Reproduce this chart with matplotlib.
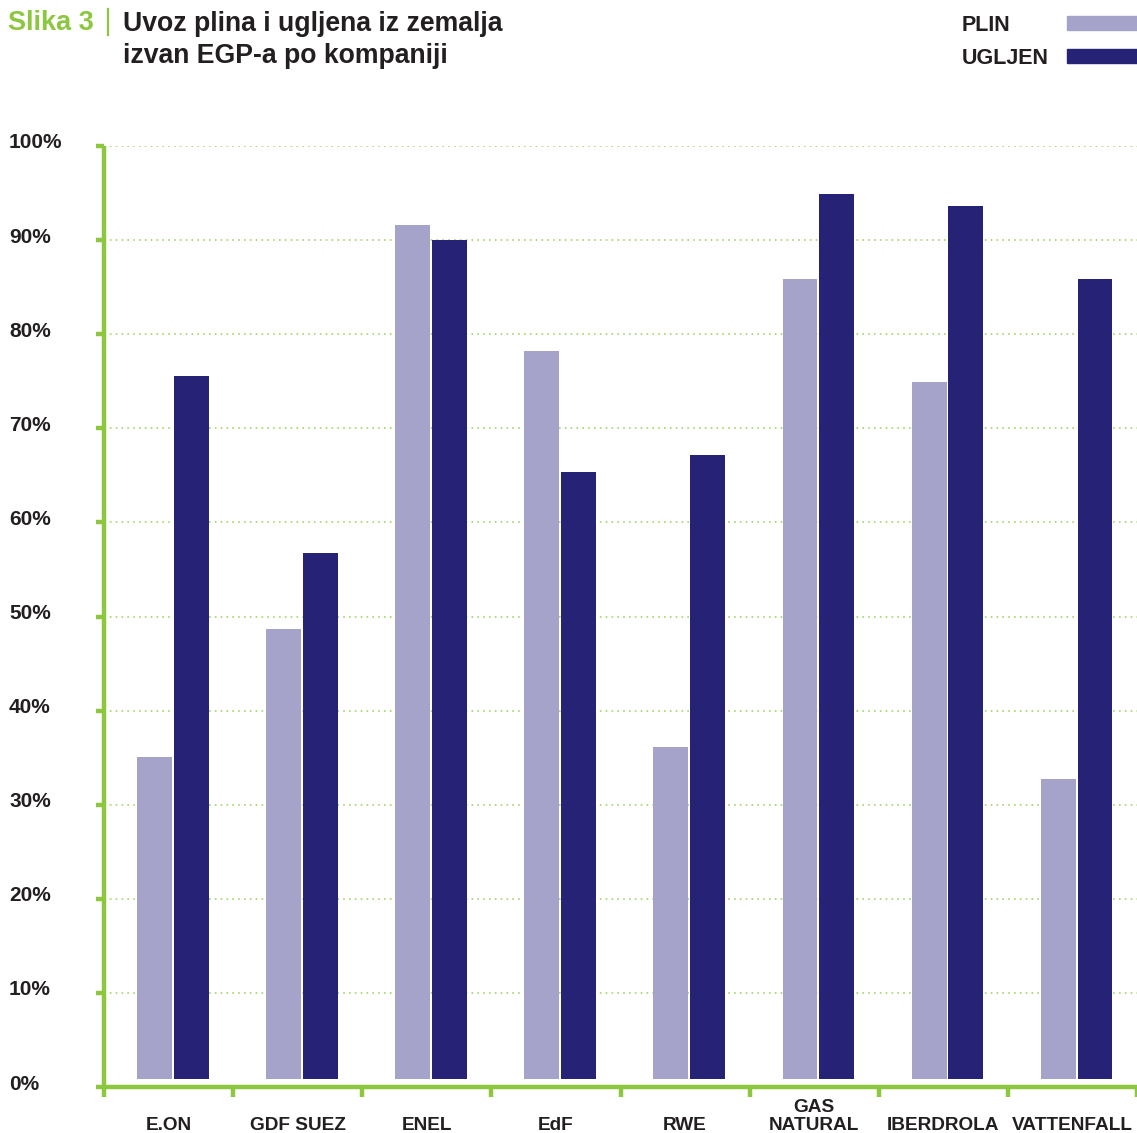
import matplotlib
matplotlib.use("Agg")
import matplotlib.pyplot as plt
import matplotlib.transforms as mtransforms
from matplotlib.patches import Rectangle
from matplotlib.lines import Line2D

plt.rcParams['font.family'] = ['Liberation Sans', 'DejaVu Sans']
plt.rcParams['font.weight'] = 'bold'

companies = ['E.ON', 'GDF SUEZ', 'ENEL', 'EdF', 'RWE', 'GAS\nNATURAL', 'IBERDROLA', 'VATTENFALL']
plin = [35.1, 48.7, 91.6, 78.2, 36.1, 85.9, 74.9, 32.7]
ugljen = [75.6, 56.7, 90.0, 65.4, 67.2, 94.9, 93.6, 85.9]
yticks = list(range(0, 101, 10))
ytick_labels = [f"{v}%" for v in yticks]

GREEN = '#8dc63f'
C_PLIN = '#a5a3c9'
C_UGLJEN = '#262376'
DARK = '#231f20'

W, H = 1137, 1133
fig = plt.figure(figsize=(W / 100, H / 100), dpi=100)
ax = fig.add_axes([104 / W, 46 / H, 1033 / W, 941 / H])

base = 0.9
xs = list(range(len(companies)))
ax.bar([x - 0.245 for x in xs], [v - base for v in plin], width=0.27, bottom=base,
       align='edge', color=C_PLIN, zorder=3)
ax.bar([x + 0.04 for x in xs], [v - base for v in ugljen], width=0.27, bottom=base,
       align='edge', color=C_UGLJEN, zorder=3)

ax.set_xlim(-0.5, len(companies) - 0.5)
ax.set_ylim(0, 100)

for s in ['top', 'right']:
    ax.spines[s].set_visible(False)
for s in ['left', 'bottom']:
    ax.spines[s].set_color(GREEN)
    ax.spines[s].set_linewidth(3.2)
    ax.spines[s].set_zorder(4)
    ax.spines[s].set_capstyle('butt')

# grid
for v in yticks[1:]:
    ax.axhline(v, color='#a6d46a', lw=1.2, ls=(0, (1, 2.5)), zorder=1)

ax.set_yticks(yticks)
ax.set_yticklabels([])
ax.tick_params(axis='y', length=6, width=3.2, color=GREEN)

# y labels, left aligned at the figure edge, nudged up a little
ytrans = mtransforms.blended_transform_factory(fig.transFigure, ax.transData) + \
    mtransforms.ScaledTranslation(0, 3 / 100, fig.dpi_scale_trans)
for v, lab in zip(yticks, ytick_labels):
    ax.text(9 / W, v, lab, transform=ytrans, ha='left', va='center',
            fontsize=15, color=DARK, fontweight='bold')

ax.set_xticks([x - 0.5 for x in xs] + [len(companies) - 0.5])
ax.set_xticklabels([])
ax.tick_params(axis='x', length=7, width=3.2, color=GREEN, direction='out')
for t in ax.xaxis.get_major_ticks():
    t.tick1line.set_clip_on(False)

trans = mtransforms.blended_transform_factory(ax.transData, fig.transFigure)
for x, name in zip(xs, companies):
    ax.text(x, -1 / H, name, transform=trans, ha='center', va='bottom',
            fontsize=13.7, color=DARK, fontweight='bold', linespacing=1.05)

# title
fig.text(8 / W, 1 - 30 / H, 'Slika 3', color=GREEN, fontsize=19.5,
         fontweight='bold', va='baseline', ha='left')
fig.add_artist(Line2D([108 / W, 108 / W], [1 - 9 / H, 1 - 35 / H],
                      transform=fig.transFigure, color=GREEN, lw=1.6))
fig.text(123 / W, 1 - 31 / H, 'Uvoz plina i ugljena iz zemalja', color=DARK,
         fontsize=19.2, fontweight='bold', va='baseline', ha='left')
fig.text(123 / W, 1 - 63 / H, 'izvan EGP-a po kompaniji', color=DARK,
         fontsize=19.2, fontweight='bold', va='baseline', ha='left')

# legend
fig.text(962 / W, 1 - 31 / H, 'PLIN', color=DARK, fontsize=15.5,
         fontweight='bold', va='baseline', ha='left')
fig.text(962 / W, 1 - 64 / H, 'UGLJEN', color=DARK, fontsize=15.5,
         fontweight='bold', va='baseline', ha='left')
fig.add_artist(Rectangle((1067 / W, 1 - 30 / H), 70 / W, 14 / H,
                         transform=fig.transFigure, color=C_PLIN))
fig.add_artist(Rectangle((1067 / W, 1 - 63 / H), 70 / W, 14 / H,
                         transform=fig.transFigure, color=C_UGLJEN))

fig.savefig('out.png', dpi=100)
